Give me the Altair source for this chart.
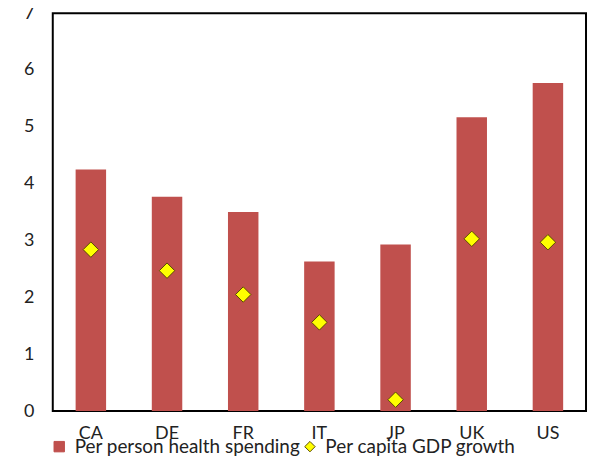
import altair as alt
import pandas as pd

countries = ["CA", "DE", "FR", "IT", "JP", "UK", "US"]
health_spending = [4.25, 3.77, 3.50, 2.63, 2.93, 5.17, 5.77]
gdp_growth = [2.84, 2.47, 2.05, 1.56, 0.20, 3.03, 2.97]
series_names = ["Per person health spending", "Per capita GDP growth"]
y_ticks = [0, 1, 2, 3, 4, 5, 6, 7]

df = pd.DataFrame({
    "country": countries * 2,
    "value": health_spending + gdp_growth,
    "series": [series_names[0]] * len(countries) + [series_names[1]] * len(countries),
})

FONT = "Lato"
TXT = "#222222"


def legend():
    return alt.Legend(title=None, orient="none", legendX=-3, legendY=426,
                      direction="horizontal", columns=2, columnPadding=-4,
                      labelFont=FONT, labelFontSize=19, labelColor=TXT,
                      labelOffset=6, symbolSize=110, symbolStrokeWidth=1,
                      labelLimit=400, padding=0)


x_enc = alt.X(
    "country:N",
    sort=countries,
    title=None,
    scale=alt.Scale(paddingInner=0.6, paddingOuter=0.3),
    axis=alt.Axis(labelAngle=0, ticks=False, domain=False, labelPadding=14,
                  labelFontSize=18, labelFont=FONT, labelColor=TXT),
)
y_enc = alt.Y(
    "value:Q",
    title=None,
    scale=alt.Scale(domain=[0, 7], nice=False),
    axis=alt.Axis(values=y_ticks, ticks=False, domain=False, grid=False, labelPadding=19,
                  labelFontSize=18, labelFont=FONT, labelColor=TXT),
)
color_enc = alt.Color(
    "series:N",
    scale=alt.Scale(domain=series_names, range=["#C0504D", "#FFFF00"]),
    legend=legend(),
)
shape_enc = alt.Shape(
    "series:N",
    scale=alt.Scale(domain=series_names, range=["square", "diamond"]),
    legend=legend(),
)
stroke_enc = alt.Stroke(
    "series:N",
    scale=alt.Scale(domain=series_names, range=["#C0504D", "#5a4a00"]),
    legend=legend(),
)

base = alt.Chart(df)

bars = base.transform_filter(alt.datum.series == series_names[0]).mark_bar(strokeWidth=0).encode(
    x=x_enc, y=y_enc, color=color_enc,
)
points = base.transform_filter(alt.datum.series == series_names[1]).mark_point(
    filled=True, size=240, strokeWidth=1, opacity=1
).encode(
    x=x_enc, y=y_enc, color=color_enc, shape=shape_enc, stroke=stroke_enc,
)

chart = alt.layer(bars, points).properties(
    width=536, height=400,
    background="white",
    autosize=alt.AutoSizeParams(type="none"),
    padding={"left": 45, "top": 4, "right": 2, "bottom": 44},
).configure_view(
    stroke="#000000", strokeWidth=2
)

chart.save("out.html", embed_options={"renderer": "svg", "actions": False})
